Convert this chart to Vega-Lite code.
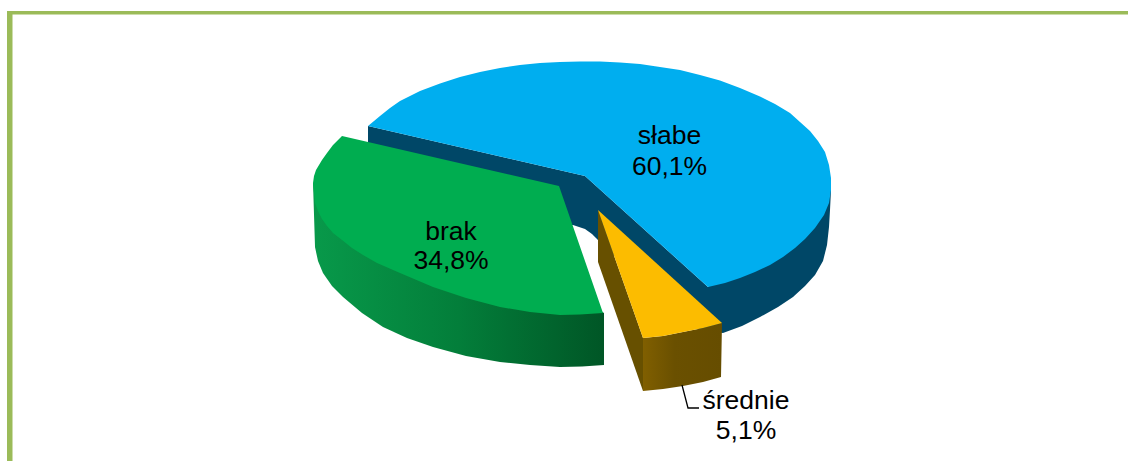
{"$schema":"https://vega.github.io/schema/vega-lite/v6.json","width":1128,"height":461,"padding":0,"autosize":{"type":"fit","contains":"padding"},"background":"white","config":{"view":{"stroke":null}},
"datasets":{
"blueSide":[{"x":368,"y":126},{"x":585,"y":176},{"x":708,"y":287},{"x":831,"y":180},{"x":831,"y":190},{"x":830,"y":210},{"x":829,"y":227},{"x":827,"y":245},{"x":823,"y":261},{"x":815,"y":275},{"x":805,"y":286},{"x":793,"y":297},{"x":778,"y":307},{"x":760,"y":317},{"x":742,"y":326},{"x":723,"y":333},{"x":700,"y":330},{"x":660,"y":300},{"x":598,"y":240},{"x":592,"y":234},{"x":585,"y":229},{"x":573,"y":225},{"x":555,"y":225},{"x":368,"y":146}],
"blueTop":[{"x":368,"y":126},{"x":380,"y":116},{"x":390,"y":108},{"x":400,"y":101},{"x":420,"y":91},{"x":440,"y":83.5},{"x":460,"y":77},{"x":480,"y":72},{"x":500,"y":68},{"x":520,"y":65},{"x":540,"y":63},{"x":560,"y":62},{"x":580,"y":61.5},{"x":600,"y":61.5},{"x":620,"y":62.5},{"x":640,"y":64},{"x":660,"y":67},{"x":680,"y":70},{"x":700,"y":75},{"x":720,"y":80.5},{"x":740,"y":88},{"x":760,"y":96.5},{"x":775,"y":104},{"x":790,"y":113},{"x":800,"y":122},{"x":810,"y":131},{"x":818,"y":141},{"x":825,"y":152},{"x":829,"y":165},{"x":831,"y":178},{"x":831,"y":190},{"x":829,"y":203},{"x":824,"y":215},{"x":815,"y":228},{"x":805,"y":239},{"x":795,"y":248},{"x":783,"y":257},{"x":770,"y":265},{"x":755,"y":272},{"x":740,"y":278},{"x":725,"y":283},{"x":708,"y":287},{"x":585,"y":176}],
"greenSide":[{"x":313,"y":183},{"x":314,"y":215},{"x":315,"y":247},{"x":318,"y":261},{"x":323,"y":273},{"x":332,"y":286},{"x":343,"y":297},{"x":362,"y":313},{"x":383,"y":327},{"x":407,"y":338},{"x":433,"y":347},{"x":466,"y":356},{"x":500,"y":362},{"x":530,"y":365},{"x":560,"y":367},{"x":582,"y":366.5},{"x":604,"y":365},{"x":604,"y":313},{"x":500,"y":250}],
"greenTop":[{"x":342,"y":136},{"x":559,"y":186},{"x":603,"y":313},{"x":580,"y":314.5},{"x":560,"y":315},{"x":530,"y":312},{"x":500,"y":307},{"x":466,"y":298},{"x":433,"y":287},{"x":400,"y":273},{"x":377,"y":263},{"x":363,"y":255},{"x":352,"y":248},{"x":342,"y":240},{"x":333,"y":233},{"x":327,"y":226},{"x":322,"y":219},{"x":318,"y":211},{"x":315,"y":203},{"x":314,"y":193},{"x":313,"y":183},{"x":314,"y":176},{"x":316,"y":170},{"x":319,"y":165},{"x":322,"y":160},{"x":327,"y":153},{"x":333,"y":145}],
"goldWall":[{"x":598,"y":210},{"x":643,"y":338},{"x":643,"y":391},{"x":598,"y":262}],
"goldFront":[{"x":643,"y":338},{"x":663,"y":336},{"x":683,"y":332},{"x":703,"y":328},{"x":722,"y":323},{"x":721,"y":377},{"x":703,"y":382},{"x":683,"y":386},{"x":663,"y":389},{"x":643,"y":391}],
"goldTop":[{"x":598,"y":210},{"x":722,"y":323},{"x":703,"y":328},{"x":683,"y":332},{"x":663,"y":336},{"x":643,"y":338}],
"leader":[{"x":682,"y":385},{"x":688,"y":408},{"x":699,"y":408}],
"labels":[{"t":"słabe","x":669.5,"y":136},{"t":"60,1%","x":669.5,"y":167},{"t":"brak","x":451,"y":232},{"t":"34,8%","x":451,"y":261},{"t":"średnie","x":746,"y":401},{"t":"5,1%","x":746,"y":431}],
"frame":[{"x":7,"x2":12.5,"y":11,"y2":461},{"x":7,"x2":1128,"y":11,"y2":14.5}]
},
"encoding":{"x":{"field":"x","type":"quantitative","scale":{"domain":[0,1128],"nice":false,"zero":false},"axis":null},"y":{"field":"y","type":"quantitative","scale":{"domain":[461,0],"nice":false,"zero":false},"axis":null}},
"layer":[
{"data":{"name":"frame"},"mark":{"type":"rect","color":"#9BBB59"},"encoding":{"x2":{"field":"x2"},"y2":{"field":"y2"}}},
{"data":{"name":"blueSide"},"transform":[{"window":[{"op":"row_number","as":"i"}]}],"mark":{"type":"line","fill":"#004767","stroke":null},"encoding":{"order":{"field":"i","type":"quantitative"}}},
{"data":{"name":"blueTop"},"transform":[{"window":[{"op":"row_number","as":"i"}]}],"mark":{"type":"line","fill":"#00AEEF","stroke":null},"encoding":{"order":{"field":"i","type":"quantitative"}}},
{"data":{"name":"greenSide"},"transform":[{"window":[{"op":"row_number","as":"i"}]}],"mark":{"type":"line","stroke":null,"fill":{"gradient":"linear","x1":0,"x2":1,"y1":0,"y2":0,"stops":[{"offset":0,"color":"#08994A"},{"offset":0.5,"color":"#037E3A"},{"offset":1,"color":"#005626"}]}},"encoding":{"order":{"field":"i","type":"quantitative"}}},
{"data":{"name":"greenTop"},"transform":[{"window":[{"op":"row_number","as":"i"}]}],"mark":{"type":"line","fill":"#00AD50","stroke":null},"encoding":{"order":{"field":"i","type":"quantitative"}}},
{"data":{"name":"goldWall"},"transform":[{"window":[{"op":"row_number","as":"i"}]}],"mark":{"type":"line","fill":"#675000","stroke":null},"encoding":{"order":{"field":"i","type":"quantitative"}}},
{"data":{"name":"goldFront"},"transform":[{"window":[{"op":"row_number","as":"i"}]}],"mark":{"type":"line","stroke":null,"fill":{"gradient":"linear","x1":0,"x2":1,"y1":0,"y2":0,"stops":[{"offset":0,"color":"#805F00"},{"offset":0.4,"color":"#6A5000"},{"offset":1,"color":"#664D00"}]}},"encoding":{"order":{"field":"i","type":"quantitative"}}},
{"data":{"name":"goldTop"},"transform":[{"window":[{"op":"row_number","as":"i"}]}],"mark":{"type":"line","fill":"#FCBC00","stroke":null},"encoding":{"order":{"field":"i","type":"quantitative"}}},
{"data":{"name":"leader"},"transform":[{"window":[{"op":"row_number","as":"i"}]}],"mark":{"type":"line","color":"#000000","strokeWidth":1.3},"encoding":{"order":{"field":"i","type":"quantitative"}}},
{"data":{"name":"labels"},"mark":{"type":"text","font":"Liberation Sans","fontSize":26.5,"color":"#000000","align":"center","baseline":"middle"},"encoding":{"text":{"field":"t"}}}
]}
